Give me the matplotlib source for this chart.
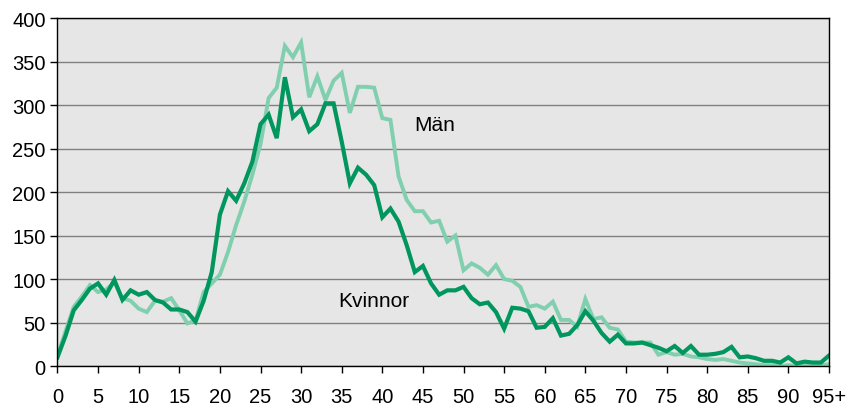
import matplotlib.pyplot as plt

# Age distribution, men and women

ages = list(range(96))
tick_labels = ['0', '5', '10', '15', '20', '25', '30', '35', '40', '45',
               '50', '55', '60', '65', '70', '75', '80', '85', '90', '95+']

man = [12, 40, 68, 80, 93, 85, 88, 96, 78, 75,
       66, 62, 75, 74, 78, 64, 49, 52, 85, 95,
       105, 131, 162, 189, 220, 255, 308, 320, 368, 355,
       372, 309, 333, 306, 328, 337, 291, 321, 321, 320,
       285, 283, 218, 191, 178, 178, 165, 167, 143, 150,
       110, 118, 113, 105, 116, 100, 98, 91, 68, 70,
       66, 74, 53, 53, 45, 77, 54, 56, 44, 42,
       28, 27, 27, 27, 13, 16, 13, 14, 11, 10,
       8, 7, 8, 6, 4, 3, 2, 1, 1, 0,
       1, 0, 0, 0, 1, 2]

kvinnor = [10, 35, 64, 76, 89, 95, 82, 99, 76, 87,
           82, 85, 76, 73, 65, 65, 62, 51, 75, 108,
           174, 201, 190, 210, 235, 278, 289, 262, 332, 286,
           295, 270, 278, 302, 302, 258, 210, 228, 220, 208,
           171, 181, 166, 139, 108, 115, 95, 82, 87, 87,
           91, 78, 71, 73, 62, 43, 67, 66, 63, 44,
           45, 55, 35, 37, 47, 63, 52, 38, 28, 36,
           26, 26, 27, 24, 21, 17, 23, 15, 23, 13,
           13, 14, 16, 22, 10, 11, 9, 6, 6, 4,
           10, 3, 5, 4, 4, 12]

plt.rcParams['font.family'] = ['Liberation Sans', 'DejaVu Sans']

fig = plt.figure(figsize=(8.49, 4.06), dpi=100)
ax = fig.add_axes([0.0677, 0.096, 0.9087, 0.857])
ax.set_facecolor('#E6E6E6')

# Lines, women on top
ax.plot(ages, man, color='#80CFAE', linewidth=2.8, solid_joinstyle='miter')
ax.plot(ages, kvinnor, color='#00965E', linewidth=3.0, solid_joinstyle='miter')

ax.text(46.5, 278, 'Män', fontsize=15, ha='center', va='center')
ax.text(39, 75, 'Kvinnor', fontsize=15, ha='center', va='center')

# Axes setup
ax.set_xlim(0, 95)
ax.set_ylim(0, 400)
ax.set_xticks(range(0, 96, 5))
ax.set_xticklabels(tick_labels)
ax.set_yticks(range(0, 401, 50))
ax.yaxis.grid(True, color='#808080', linewidth=1)
ax.set_axisbelow(True)
ax.tick_params(axis='both', direction='out', length=5, width=1,
               labelsize=14.5, colors='black')
ax.tick_params(axis='x', pad=10)
for s in ax.spines.values():
    s.set_color('black')
    s.set_linewidth(1)

fig.savefig('out.png', dpi=100)
